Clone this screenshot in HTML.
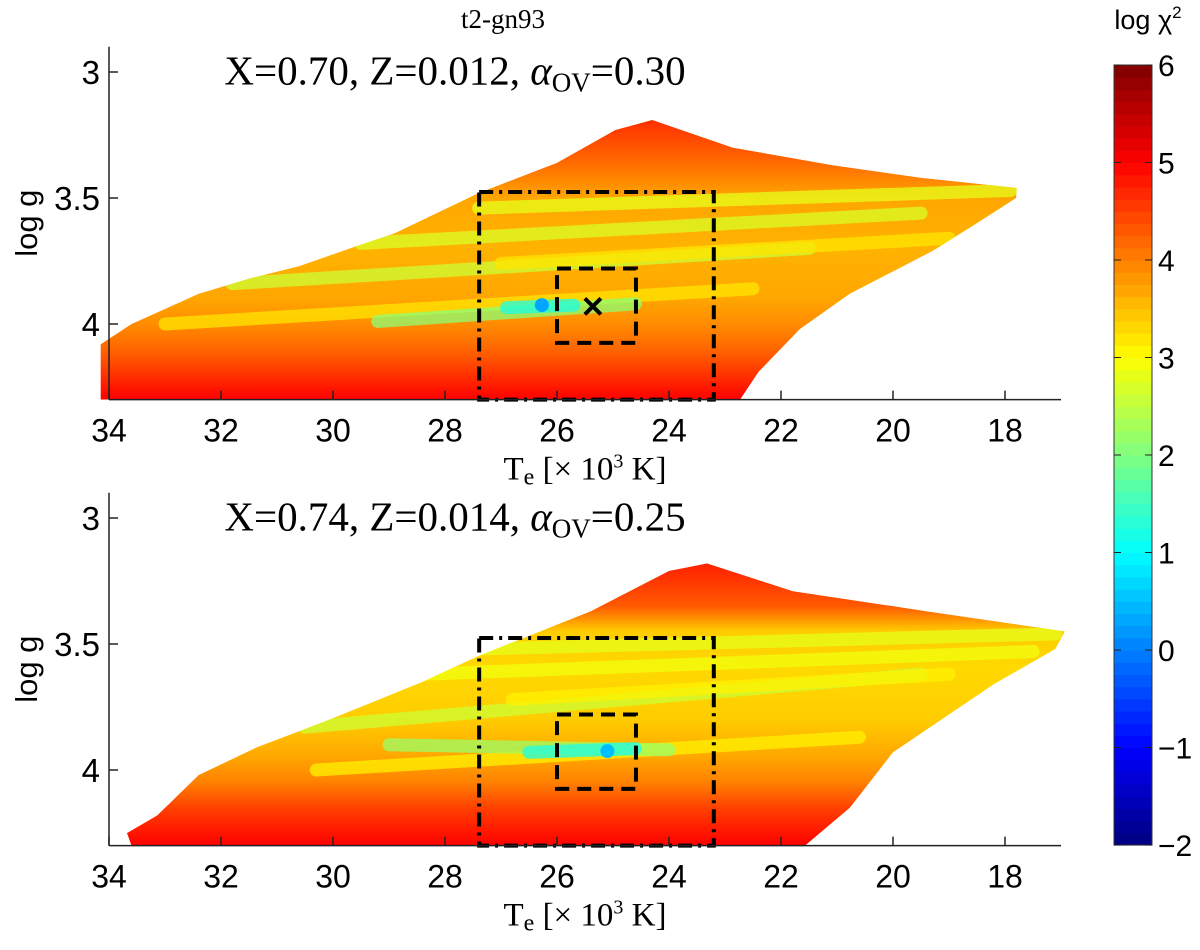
<!DOCTYPE html>
<html><head><meta charset="utf-8"><style>
html,body{margin:0;padding:0;background:#fff;}
svg text{font-family:"Liberation Sans",sans-serif;}
.serif{font-family:"Liberation Serif",serif !important;}
</style></head><body>
<svg id="fig" width="1200" height="945" viewBox="0 0 1200 945" xmlns="http://www.w3.org/2000/svg">
<defs id="defs"></defs>
<text class="serif" x="503" y="28" font-size="27" text-anchor="middle">t2-gn93</text>
<g id="panels"></g>
<g id="cbar"></g>
<text x="1148" y="29" font-size="27" text-anchor="middle">log χ<tspan dy="-11" font-size="17">2</tspan></text>
</svg>
<script>
// ---- shared axis data ----
const xTicks = [34,32,30,28,26,24,22,20,18];
const yTicks = [3,3.5,4];
const cbTicks = [6,5,4,3,2,1,0,-1,-2];
const cbTickLabels = ['6','5','4','3','2','1','0','\u22121','\u22122'];

// ---- top panel data ----
const topShapeTe = [34.15,34.15,33.6,33.0,32.4,31.5,30.6,29.7,28.9,27.4,26.0,24.96,24.3,22.86,21.07,19.5,17.79,17.8,18.5,19.29,20.77,21.66,22.4,22.73,34.15];
const topShapeG  = [4.3,4.08,4.0,3.94,3.88,3.82,3.77,3.70,3.64,3.48,3.36,3.23,3.19,3.30,3.37,3.42,3.46,3.50,3.60,3.71,3.88,4.02,4.19,4.3,4.3];
const topGradG   = [3.2,3.35,3.5,3.7,3.9,4.0,4.1,4.2,4.3];
const topGradChi = [4.6,4.2,3.7,3.6,3.7,3.9,4.2,4.6,5.0];
const topStripeTe1 = [27.4,29.5,31.8,33.0,27.0,29.2,26.9];
const topStripeG1  = [3.54,3.68,3.84,4.00,3.76,3.99,3.935];
const topStripeTe2 = [17.9,19.5,21.5,22.5,19.0,24.6,25.7];
const topStripeG2  = [3.47,3.56,3.70,3.86,3.66,3.92,3.925];
const topStripeChi = [2.8,2.7,2.6,3.2,3.2,2.1,1.2];
const topBest = [26.27,3.925,0.3];
const topCross = [25.36,3.93];

// ---- bottom panel data ----
const botShapeTe = [33.68,33.14,32.4,31.36,30.18,28.4,27.43,25.4,24.0,23.32,21.79,19.4,16.93,17.1,18.2,20.0,20.77,21.57,33.6,33.68];
const botShapeG  = [4.25,4.18,4.02,3.91,3.81,3.65,3.55,3.37,3.21,3.18,3.29,3.37,3.45,3.52,3.66,3.93,4.15,4.3,4.3,4.25];
const botGradG   = [3.2,3.35,3.45,3.6,3.8,3.95,4.05,4.15,4.3];
const botGradChi = [4.7,4.3,3.4,3.3,3.4,3.7,4.0,4.5,5.0];
const botStripeTe1 = [27.4,28.4,30.5,30.3,26.8,29.0,26.5];
const botStripeG1  = [3.52,3.62,3.83,4.00,3.72,3.90,3.93];
const botStripeTe2 = [17.1,17.5,19.5,20.6,19.0,24.0,24.6];
const botStripeG2  = [3.46,3.53,3.62,3.87,3.62,3.92,3.915];
const botStripeChi = [2.8,2.9,2.6,3.1,3.1,2.2,1.2];
const botBest = [25.1,3.925,0.5];
const botCross = null;

// ---- boxes (same for both) ----
const outerBox = [27.39,23.2,3.476,4.3];
const innerBox = [26.0,24.59,3.78,4.075];

const NS='http://www.w3.org/2000/svg';
function el(tag,attrs,parent){const e=document.createElementNS(NS,tag);for(const k in attrs)e.setAttribute(k,attrs[k]);if(parent)parent.appendChild(e);return e;}
function jet(v){
  let t=(v+2)/8; t=Math.max(0,Math.min(1,t));
  const r=Math.max(0,Math.min(1,1.5-Math.abs(4*t-3)));
  const g=Math.max(0,Math.min(1,1.5-Math.abs(4*t-2)));
  const b=Math.max(0,Math.min(1,1.5-Math.abs(4*t-1)));
  return `rgb(${Math.round(r*255)},${Math.round(g*255)},${Math.round(b*255)})`;
}
const X0=109, X1=1061, pxPerK=56;
function xs(te){return X0+(34-te)*pxPerK;}

function panel(idx, y3, shTe, shG, gG, gC, s1, g1, s2, g2, sc, best, cross, label){
  const ys=g=>y3+(g-3)*252;
  const top=ys(2.9), bot=ys(4.3);
  const root=document.getElementById('panels');
  const defs=document.getElementById('defs');
  const pg=el('g',{},root);
  
  
  const cp=el('clipPath',{id:'clip'+idx},defs);
  const pts=shTe.map((t,i)=>xs(t).toFixed(1)+','+ys(shG[i]).toFixed(1)).join(' ');
  el('polygon',{points:pts},cp);
  const lg=el('linearGradient',{id:'grad'+idx,x1:0,y1:ys(gG[0]),x2:0,y2:ys(gG[gG.length-1]),gradientUnits:'userSpaceOnUse'},defs);
  gG.forEach((g,i)=>{el('stop',{offset:((g-gG[0])/(gG[gG.length-1]-gG[0])).toFixed(3),'stop-color':jet(gC[i])},lg);});
  const region=el('g',{'clip-path':`url(#clip${idx})`},pg);
  
  
  el('polygon',{points:pts,fill:`url(#grad${idx})`},region);
  s1.forEach((t,i)=>{
    const ln=el('line',{x1:xs(t),y1:ys(g1[i]),x2:xs(s2[i]),y2:ys(g2[i]),stroke:jet(sc[i]),'stroke-width':13,'stroke-linecap':'round','stroke-opacity':0.75},region);
    
    
  });
  const bd=el('circle',{cx:xs(best[0]),cy:ys(best[1]),r:7,fill:jet(best[2])},pg);
  
  
  const ob=el('rect',{x:xs(outerBox[0]),y:ys(outerBox[2]),width:xs(outerBox[1])-xs(outerBox[0]),height:ys(outerBox[3])-ys(outerBox[2]),fill:'none',stroke:'#000','stroke-width':4,'stroke-dasharray':'14,6,3,6'},pg);
  
  
  const ib=el('rect',{x:xs(innerBox[0]),y:ys(innerBox[2]),width:xs(innerBox[1])-xs(innerBox[0]),height:ys(innerBox[3])-ys(innerBox[2]),fill:'none',stroke:'#000','stroke-width':4,'stroke-dasharray':'14,8'},pg);
  
  
  if(cross){
    const cx=xs(cross[0]),cy=ys(cross[1]);
    const cr=el('path',{d:`M${cx-8},${cy-8}L${cx+8},${cy+8}M${cx+8},${cy-8}L${cx-8},${cy+8}`,stroke:'#000','stroke-width':4},pg);
    
    
  }
  const ax=el('g',{},pg);
  
  
  el('line',{x1:X0,y1:top,x2:X0,y2:bot,stroke:'#222','stroke-width':1.5},ax);
  el('line',{x1:X0,y1:bot,x2:X1,y2:bot,stroke:'#222','stroke-width':1.5},ax);
  xTicks.forEach(t=>{
    el('line',{x1:xs(t),y1:bot,x2:xs(t),y2:bot-9,stroke:'#222','stroke-width':1.5},ax);
    const tx=el('text',{x:xs(t),y:bot+42,'font-size':32,'text-anchor':'middle'},ax);
    tx.textContent=t;
    
    
  });
  yTicks.forEach(t=>{
    el('line',{x1:X0,y1:ys(t),x2:X0+9,y2:ys(t),stroke:'#222','stroke-width':1.5},ax);
    const tx=el('text',{x:X0-9,y:ys(t)+12,'font-size':33,'text-anchor':'end'},ax);
    tx.textContent=t;
    
    
  });
  const yl=el('text',{x:0,y:0,'font-size':31,'text-anchor':'middle',transform:`translate(37,${ys(3.6)}) rotate(-90)`},ax);
  yl.textContent='log g';
  
  
  const xl=el('text',{x:585,y:bot+80,'font-size':33,'text-anchor':'middle',class:'serif'},ax);
  xl.innerHTML='T<tspan font-size="24" dy="5">e</tspan><tspan dy="-5"> [× 10</tspan><tspan font-size="20" dy="-12">3</tspan><tspan dy="12"> K]</tspan>';
  
  
  const st=el('text',{x:455,y:ys(3.05),'font-size':41,'text-anchor':'middle',class:'serif'},pg);
  st.innerHTML=label;
  
  
}
panel(0,72,topShapeTe,topShapeG,topGradG,topGradChi,topStripeTe1,topStripeG1,topStripeTe2,topStripeG2,topStripeChi,topBest,topCross,
 'X=0.70, Z=0.012, <tspan font-style="italic">α</tspan><tspan font-size="27" dy="7">OV</tspan><tspan dy="-7">=0.30</tspan>');
panel(1,518,botShapeTe,botShapeG,botGradG,botGradChi,botStripeTe1,botStripeG1,botStripeTe2,botStripeG2,botStripeChi,botBest,botCross,
 'X=0.74, Z=0.014, <tspan font-style="italic">α</tspan><tspan font-size="27" dy="7">OV</tspan><tspan dy="-7">=0.25</tspan>');

(function(){
  const cb=document.getElementById('cbar');
  const cTop=65,cBot=845,L=1114,W=38,vMin=-2,vMax=6,n=64;
  const cy=v=>cBot-(v-vMin)/(vMax-vMin)*(cBot-cTop);
  for(let i=0;i<n;i++){
    const v0=vMin+(vMax-vMin)*i/n, v1=vMin+(vMax-vMin)*(i+1)/n;
    el('rect',{x:L,y:cy(v1),width:W,height:cy(v0)-cy(v1)+0.6,fill:jet((v0+v1)/2)},cb);
  }
  el('rect',{x:L,y:cTop,width:W,height:cBot-cTop,fill:'none',stroke:'#333','stroke-width':1},cb);
  cbTicks.forEach((v,i)=>{
    el('line',{x1:L,y1:cy(v),x2:L+7,y2:cy(v),stroke:'#222','stroke-width':1},cb);
    el('line',{x1:L+W-7,y1:cy(v),x2:L+W,y2:cy(v),stroke:'#222','stroke-width':1},cb);
    const t=el('text',{x:L+W+6,y:cy(v)+11,'font-size':30},cb);
    t.textContent=cbTickLabels[i];
    
    
  });
})();
</script>
</body></html>
